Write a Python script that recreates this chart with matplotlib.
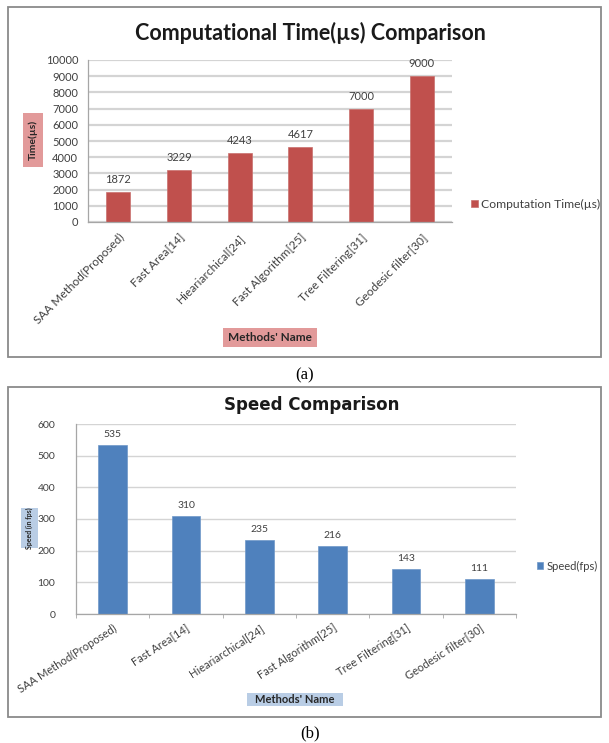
import matplotlib
matplotlib.use("Agg")
import matplotlib.pyplot as plt
from matplotlib.patches import Rectangle

methods = ["SAA Method(Proposed)", "Fast Area[14]", "Hieariarchical[24]",
           "Fast Algorithm[25]", "Tree Filtering[31]", "Geodesic filter[30]"]
time_us = [1872, 3229, 4243, 4617, 7000, 9000]
speed_fps = [535, 310, 235, 216, 143, 111]
time_ticks = list(range(0, 10001, 1000))
speed_ticks = list(range(0, 601, 100))

W, H = 609, 743
plt.rcParams["font.family"] = ["Lato", "DejaVu Sans"]

fig = plt.figure(figsize=(W / 100, H / 100), dpi=100)


def fx(x):
    return x / W


def fy(y):
    return 1 - y / H


def ax_rect(left, top, right, bottom):
    return [fx(left), fy(bottom), (right - left) / W, (bottom - top) / H]


def fig_rect(left, top, right, bottom, **kw):
    fig.patches.append(Rectangle((fx(left), fy(bottom)), (right - left) / W,
                                 (bottom - top) / H, transform=fig.transFigure,
                                 **kw))


def boxed_label(left, top, right, bottom, text, color, size, rotation=0):
    fig_rect(left, top, right, bottom, facecolor=color, edgecolor="none")
    fig.text(fx((left + right) / 2), fy((top + bottom) / 2), text,
             rotation=rotation, ha="center", va="center", fontsize=size,
             fontweight="bold", color="#262626")


def style_axes(ax, ticks, grid_lw, ysize):
    ax.set_yticks(ticks)
    ax.set_ylim(ticks[0], ticks[-1])
    ax.set_xlim(-0.5, len(methods) - 0.5)
    ax.yaxis.grid(True, color="#d4d4d4", lw=grid_lw)
    ax.set_axisbelow(True)
    for s in ["top", "right"]:
        ax.spines[s].set_visible(False)
    for s in ["left", "bottom"]:
        ax.spines[s].set_color("#a6a6a6")
        ax.spines[s].set_linewidth(0.9)
    ax.tick_params(axis="y", length=0, labelsize=ysize, colors="#404040")
    ax.tick_params(axis="x", length=0, colors="#404040")
    ax.set_facecolor("white")


# ---------- (a) computational time ----------
fig_rect(8, 7, 601, 357, fill=False, edgecolor="#8a8a8a", lw=1.3)
ax1 = fig.add_axes(ax_rect(88, 60, 452, 222))
bars1 = ax1.bar(range(len(methods)), time_us, width=0.4, color="#C0504D",
                edgecolor="#c9706d", lw=0.5, label="Computation Time(µs)")
style_axes(ax1, time_ticks, 1.6, 8)
ax1.tick_params(axis="y", pad=7)
ax1.set_xticks(range(len(methods)))
ax1.set_xticklabels(methods, rotation=45, ha="right", rotation_mode="anchor",
                    fontsize=8.5)
ax1.tick_params(axis="x", pad=7)
for i, v in enumerate(time_us):
    ax1.annotate(str(v), (i, v), xytext=(0, 5), textcoords="offset points",
                 ha="center", va="bottom", fontsize=8, color="#404040")
fig.text(fx(310), fy(33), "Computational Time(µs) Comparison", ha="center",
         va="center", fontsize=15.5, fontweight="bold", color="#1a1a1a")
boxed_label(23, 113, 43, 167, "Time(µs)", "#e29a9a", 7.5, rotation=90)
boxed_label(223, 328, 317, 347, "Methods' Name", "#e29a9a", 8.5)
fig.legend(handles=[bars1], loc="center left",
           bbox_to_anchor=(fx(471), fy(204)), frameon=False, fontsize=8.7,
           handlelength=0.55, handleheight=0.55, handletextpad=0.3,
           labelcolor="#404040", borderaxespad=0, borderpad=0)
fig.text(fx(305), fy(375), "(a)", ha="center", va="center", fontsize=12,
         family="Liberation Serif")

# ---------- (b) speed ----------
fig_rect(8, 387, 601, 717, fill=False, edgecolor="#8a8a8a", lw=1.3)
ax2 = fig.add_axes(ax_rect(76, 424, 516, 614))
bars2 = ax2.bar(range(len(methods)), speed_fps, width=0.39, color="#4F81BD",
                edgecolor="#6f98c8", lw=0.5, label="Speed(fps)")
style_axes(ax2, speed_ticks, 1.0, 7.5)
ax2.tick_params(axis="y", pad=15)
ax2.set_xticks([i + 0.5 for i in range(-1, len(methods))], minor=True)
ax2.tick_params(axis="x", which="minor", length=3, color="#a6a6a6")
ax2.set_xticks(range(len(methods)))
ax2.set_xticklabels(methods, rotation=33, ha="right", rotation_mode="anchor",
                    fontsize=8)
ax2.tick_params(axis="x", which="major", pad=6)
for i, v in enumerate(speed_fps):
    ax2.annotate(str(v), (i, v), xytext=(0, 4), textcoords="offset points",
                 ha="center", va="bottom", fontsize=7.5, color="#404040")
fig.text(fx(312), fy(405), "Speed Comparison", ha="center", va="center",
         fontsize=12, fontweight="bold", color="#1a1a1a",
         family="DejaVu Sans")
boxed_label(21, 508, 38, 548, "Speed (in fps)", "#b9cde5", 5, rotation=90)
boxed_label(247, 693, 343, 706, "Methods' Name", "#b9cde5", 8)
fig.legend(handles=[bars2], loc="center left",
           bbox_to_anchor=(fx(537), fy(566)), frameon=False, fontsize=8,
           handlelength=0.55, handleheight=0.55, handletextpad=0.3,
           labelcolor="#404040", borderaxespad=0, borderpad=0)
fig.text(fx(310), fy(733), "(b)", ha="center", va="center", fontsize=12,
         family="Liberation Serif")

fig.savefig("out.png", dpi=100, facecolor="white")
